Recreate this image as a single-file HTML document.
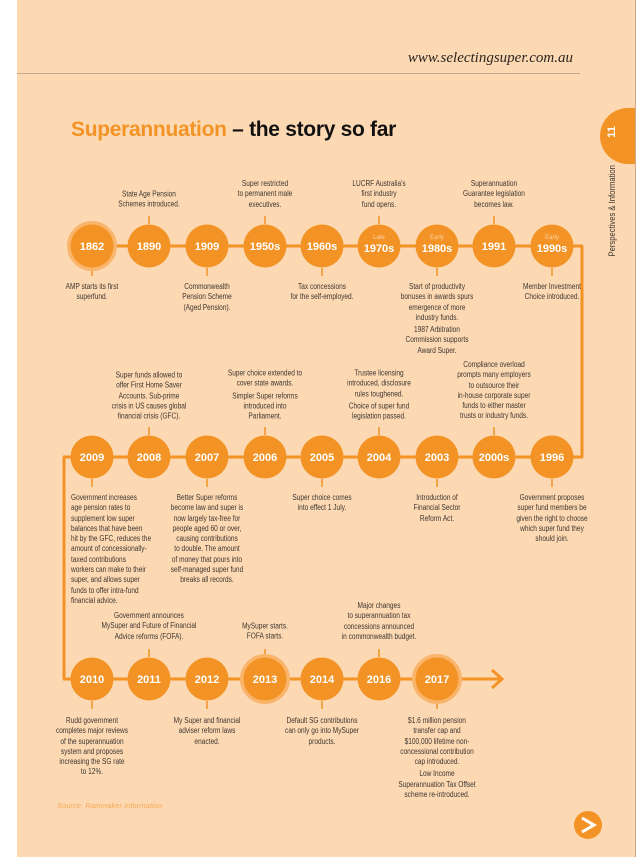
<!DOCTYPE html>
<html><head><meta charset="utf-8"><style>
body{margin:0;width:643px;height:857px;background:#fff;position:relative;overflow:hidden;font-family:"Liberation Sans Narrow","Liberation Sans",sans-serif}
.pg{position:absolute;left:17px;top:0;width:618px;height:857px;background:#fdd9b3;border-right:1px solid #c9a888}
.t{position:absolute;width:140px;margin-left:-70px;text-align:center;font-size:7.8px;line-height:10.3px;color:#3c3630;transform:scaleX(.84);white-space:nowrap}
.a{transform:translateY(-100%) scaleX(.84)}
.t p{margin:0 0 2px}
svg{position:absolute;left:0;top:0}
</style></head><body>
<div class="pg"></div>
<div style="position:absolute;right:70px;top:50px;font-family:'Liberation Serif',serif;font-style:italic;font-size:15px;color:#2a2520">www.selectingsuper.com.au</div>
<div style="position:absolute;left:17px;top:73px;width:563px;height:1px;background:#c4aa8c"></div>
<div style="position:absolute;left:71px;top:118px;font-family:'Liberation Sans',sans-serif;font-weight:bold;font-size:21px;color:#111;letter-spacing:-0.3px"><span style="color:#f39325">Superannuation</span> – the story so far</div>
<div style="position:absolute;left:600px;top:108px;width:35px;height:56px;border-radius:28px 0 0 28px;background:#f39325"></div>
<div style="position:absolute;left:606px;top:126px;color:#fff;font-family:'Liberation Sans',sans-serif;font-weight:bold;font-size:11px;transform:rotate(-90deg)">11</div>
<div style="position:absolute;left:562px;top:209px;width:100px;text-align:center;transform:rotate(-90deg) scaleX(.85);font-size:9px;color:#3c3630;white-space:nowrap">Perspectives &amp; Information</div>
<svg width="643" height="857" font-family="Liberation Sans, sans-serif">
<g stroke="#f39325" stroke-width="3" fill="none">
<line x1="92" y1="246" x2="583" y2="246"/><line x1="582" y1="246" x2="582" y2="457"/>
<line x1="583" y1="457" x2="63" y2="457"/><line x1="64" y1="457" x2="64" y2="679"/>
<line x1="63" y1="679" x2="502" y2="679"/><polyline points="492,670 502,679 492,688"/>
</g>
<g stroke="#f39325" stroke-width="1.5">
<line x1="92" y1="268" x2="92" y2="276"/><line x1="149" y1="216" x2="149" y2="224"/><line x1="207" y1="268" x2="207" y2="276"/><line x1="265" y1="216" x2="265" y2="224"/><line x1="322" y1="268" x2="322" y2="276"/><line x1="379" y1="216" x2="379" y2="224"/><line x1="437" y1="268" x2="437" y2="276"/><line x1="494" y1="216" x2="494" y2="224"/><line x1="552" y1="268" x2="552" y2="276"/>
<line x1="92" y1="479" x2="92" y2="487"/><line x1="149" y1="427" x2="149" y2="435"/><line x1="207" y1="479" x2="207" y2="487"/><line x1="265" y1="427" x2="265" y2="435"/><line x1="322" y1="479" x2="322" y2="487"/><line x1="379" y1="427" x2="379" y2="435"/><line x1="437" y1="479" x2="437" y2="487"/><line x1="494" y1="427" x2="494" y2="435"/><line x1="552" y1="479" x2="552" y2="487"/>
<line x1="92" y1="701" x2="92" y2="709"/><line x1="149" y1="649" x2="149" y2="657"/><line x1="207" y1="701" x2="207" y2="709"/><line x1="265" y1="649" x2="265" y2="657"/><line x1="322" y1="701" x2="322" y2="709"/><line x1="379" y1="649" x2="379" y2="657"/><line x1="437" y1="701" x2="437" y2="709"/>
</g>
<g fill="#f9b56c"><circle cx="92" cy="246" r="25"/><circle cx="265" cy="679" r="25"/><circle cx="437" cy="679" r="25"/></g>
<g fill="#f39325">
<circle cx="92" cy="246" r="21.5"/><circle cx="149" cy="246" r="21.5"/><circle cx="207" cy="246" r="21.5"/><circle cx="265" cy="246" r="21.5"/><circle cx="322" cy="246" r="21.5"/><circle cx="379" cy="246" r="21.5"/><circle cx="437" cy="246" r="21.5"/><circle cx="494" cy="246" r="21.5"/><circle cx="552" cy="246" r="21.5"/>
<circle cx="92" cy="457" r="21.5"/><circle cx="149" cy="457" r="21.5"/><circle cx="207" cy="457" r="21.5"/><circle cx="265" cy="457" r="21.5"/><circle cx="322" cy="457" r="21.5"/><circle cx="379" cy="457" r="21.5"/><circle cx="437" cy="457" r="21.5"/><circle cx="494" cy="457" r="21.5"/><circle cx="552" cy="457" r="21.5"/>
<circle cx="92" cy="679" r="21.5"/><circle cx="149" cy="679" r="21.5"/><circle cx="207" cy="679" r="21.5"/><circle cx="265" cy="679" r="21.5"/><circle cx="322" cy="679" r="21.5"/><circle cx="379" cy="679" r="21.5"/><circle cx="437" cy="679" r="21.5"/>
<circle cx="588" cy="825" r="14"/>
</g>
<polyline points="582,818 594,825 582,832" stroke="#fff" stroke-width="3" fill="none"/>
<g fill="#fff" font-weight="bold" font-size="11" text-anchor="middle">
<text x="92" y="250">1862</text><text x="149" y="250">1890</text><text x="207" y="250">1909</text><text x="265" y="250">1950s</text><text x="322" y="250">1960s</text><text x="379" y="252">1970s</text><text x="437" y="252">1980s</text><text x="494" y="250">1991</text><text x="552" y="252">1990s</text>
<text x="92" y="461">2009</text><text x="149" y="461">2008</text><text x="207" y="461">2007</text><text x="265" y="461">2006</text><text x="322" y="461">2005</text><text x="379" y="461">2004</text><text x="437" y="461">2003</text><text x="494" y="461">2000s</text><text x="552" y="461">1996</text>
<text x="92" y="683">2010</text><text x="149" y="683">2011</text><text x="207" y="683">2012</text><text x="265" y="683">2013</text><text x="322" y="683">2014</text><text x="379" y="683">2016</text><text x="437" y="683">2017</text>
</g>
<g fill="#fcd3a6" font-size="6" text-anchor="middle"><text x="379" y="239">Late</text><text x="437" y="239">Early</text><text x="552" y="239">Early</text></g>
</svg>
<div class="t a" style="left:149px;top:210px">State Age Pension<br>Schemes introduced.</div>
<div class="t a" style="left:265px;top:210px">Super restricted<br>to permanent male<br>executives.</div>
<div class="t a" style="left:379px;top:210px">LUCRF Australia's<br>first industry<br>fund opens.</div>
<div class="t a" style="left:494px;top:210px">Superannuation<br>Guarantee legislation<br>becomes law.</div>
<div class="t" style="left:92px;top:282px">AMP starts its first<br>superfund.</div>
<div class="t" style="left:207px;top:282px">Commonwealth<br>Pension Scheme<br>(Aged Pension).</div>
<div class="t" style="left:322px;top:282px">Tax concessions<br>for the self-employed.</div>
<div class="t" style="left:437px;top:282px"><p>Start of productivity<br>bonuses in awards spurs<br>emergence of more<br>industry funds.</p>1987 Arbitration<br>Commission supports<br>Award Super.</div>
<div class="t" style="left:552px;top:282px">Member Investment<br>Choice introduced.</div>
<div class="t a" style="left:149px;top:422px">Super funds allowed to<br>offer First Home Saver<br>Accounts. Sub-prime<br>crisis in US causes global<br>financial crisis (GFC).</div>
<div class="t a" style="left:265px;top:422px"><p>Super choice extended to<br>cover state awards.</p>Simpler Super reforms<br>introduced into<br>Parliament.</div>
<div class="t a" style="left:379px;top:422px"><p>Trustee licensing<br>introduced, disclosure<br>rules toughened.</p>Choice of super fund<br>legislation passed.</div>
<div class="t a" style="left:494px;top:422px">Compliance overload<br>prompts many employers<br>to outsource their<br>in-house corporate super<br>funds to either master<br>trusts or industry funds.</div>
<div class="t" style="left:141px;top:493px;text-align:left;transform-origin:0 0">Government increases<br>age pension rates to<br>supplement low super<br>balances that have been<br>hit by the GFC, reduces the<br>amount of concessionally-<br>taxed contributions<br>workers can make to their<br>super, and allows super<br>funds to offer intra-fund<br>financial advice.</div>
<div class="t" style="left:207px;top:493px">Better Super reforms<br>become law and super is<br>now largely tax-free for<br>people aged 60 or over,<br>causing contributions<br>to double. The amount<br>of money that pours into<br>self-managed super fund<br>breaks all records.</div>
<div class="t" style="left:322px;top:493px">Super choice comes<br>into effect 1 July.</div>
<div class="t" style="left:437px;top:493px">Introduction of<br>Financial Sector<br>Reform Act.</div>
<div class="t" style="left:552px;top:493px">Government proposes<br>super fund members be<br>given the right to choose<br>which super fund they<br>should join.</div>
<div class="t a" style="left:149px;top:642px">Government announces<br>MySuper and Future of Financial<br>Advice reforms (FOFA).</div>
<div class="t a" style="left:265px;top:642px">MySuper starts.<br>FOFA starts.</div>
<div class="t a" style="left:379px;top:642px">Major changes<br>to superannuation tax<br>concessions announced<br>in commonwealth budget.</div>
<div class="t" style="left:92px;top:716px">Rudd government<br>completes major reviews<br>of the superannuation<br>system and proposes<br>increasing the SG rate<br>to 12%.</div>
<div class="t" style="left:207px;top:716px">My Super and financial<br>adviser reform laws<br>enacted.</div>
<div class="t" style="left:322px;top:716px">Default SG contributions<br>can only go into MySuper<br>products.</div>
<div class="t" style="left:437px;top:716px"><p>$1.6 million pension<br>transfer cap and<br>$100,000 lifetime non-<br>concessional contribution<br>cap introduced.</p>Low Income<br>Superannuation Tax Offset<br>scheme re-introduced.</div>
<div style="position:absolute;left:57px;top:801px;font-size:7.6px;font-style:italic;color:#f5a957">Source: Rainmaker Information</div>
</body></html>
